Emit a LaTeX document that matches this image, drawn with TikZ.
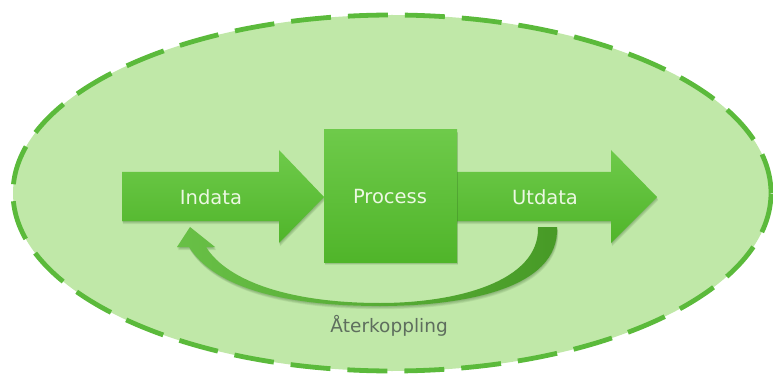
\documentclass[tikz,border=0pt]{standalone}
\usepackage{fontspec}
\setmainfont{DejaVu Sans}
\usetikzlibrary{shapes.geometric}

\definecolor{cloud}{HTML}{C0E8A8}
\definecolor{rim}{HTML}{5BBA3B}
\definecolor{greenhi}{HTML}{6ECA4A}
\definecolor{greenlo}{HTML}{50B52A}
\definecolor{loopdark}{HTML}{479A26}
\definecolor{labelwhite}{HTML}{ECF8E2}
\definecolor{notegray}{HTML}{5E6E5E}
\definecolor{shade}{HTML}{24501A}

\tikzset{
  greenpart/.style={top color=greenhi, bottom color=greenlo, draw=none},
  shadowlayer/.style={fill=shade, draw=none, fill opacity=0.09},
  steplabel/.style={text=labelwhite, font=\fontsize{19.5}{22}\selectfont},
  % outlines of the shapes
  inshape/.style={insert path={(122,172) -- (279,172) -- (279,150) -- (324,197)
      -- (279,243) -- (279,221) -- (122,221) -- cycle}},
  outshape/.style={insert path={(440,172) -- (611,172) -- (611,150) -- (657,197)
      -- (611,243) -- (611,221) -- (440,221) -- cycle}},
  boxshape/.style={insert path={(324,130) rectangle (457,262)}},
  loopshape/.style={insert path={(538,227) -- (557,227)
      .. controls (560,290) and (460,306) .. (380,306)
      .. controls (285,306) and (215,288) .. (189,247)
      -- (177,247) -- (190,227) -- (215,247) -- (206,247)
      .. controls (228,282) and (292,303) .. (380,303)
      .. controls (455,303) and (540,282) .. (538,227) -- cycle}},
}
% soft drop shadow built from a few offset translucent copies
\newcommand{\dropshade}[1]{%
  \foreach \k in {1,2,3,4}{
    \path[shadowlayer, shift={(0.3*\k,0.8*\k)}, #1];
  }%
}

\begin{document}
\begin{tikzpicture}[x=1pt, y=-1pt]
  \useasboundingbox (0,0) rectangle (773,374);

  % surrounding system boundary
  \node[draw=rim, line width=4.8pt, dash pattern=on 40pt off 17pt, fill=cloud,
        ellipse, minimum width=758pt, minimum height=356pt, inner sep=0pt]
        (system) at (392,193) {};

  % feedback loop from output back to input
  \dropshade{loopshape}
  \path[left color=greenhi!95!black, right color=loopdark, draw=none, loopshape];

  % output arrow (shaft runs behind the process box)
  \dropshade{outshape}
  \path[greenpart, outshape];

  % input arrow
  \dropshade{inshape}
  \path[greenpart, inshape];

  % process box
  \dropshade{boxshape}
  \path[greenpart, boxshape];

  \node[steplabel] (indata)  at (211,197) {Indata};
  \node[steplabel] (process) at (390,197) {Process};
  \node[steplabel] (utdata)  at (545,197) {Utdata};
  \node[text=notegray, font=\fontsize{18.5}{20}\selectfont] (feedback) at (389,326) {Återkoppling};
\end{tikzpicture}
\end{document}
